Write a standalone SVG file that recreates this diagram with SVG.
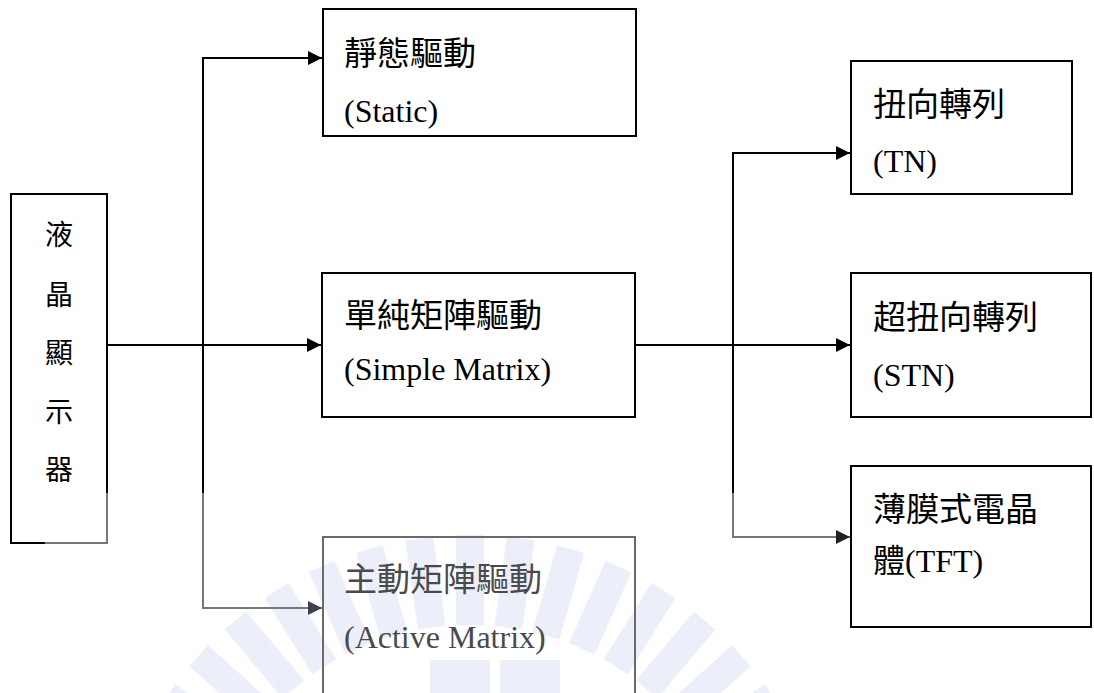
<svg xmlns="http://www.w3.org/2000/svg" width="1094" height="693" viewBox="0 0 1094 693">
<style>
.box{fill:#fff;stroke:#000;stroke-width:2}
.gbox{fill:none;stroke:#6a6a6a;stroke-width:2}
.cjk{font-family:"Liberation Serif","Noto Sans CJK TC",serif;font-size:33px;fill:#000}
.lat{font-family:"Liberation Serif","Noto Sans CJK TC",serif;font-size:32px;fill:#000}
.side{font-size:28px}
.gt{fill:#4a4a4a}
.ln{fill:none;stroke:#000;stroke-width:2}
.gl{fill:none;stroke:#777;stroke-width:2}
.wm{fill:#dfe2f6;opacity:0.6}
</style>
<defs>
<marker id="ah" viewBox="0 0 10 10" refX="10" refY="5" markerWidth="14" markerHeight="14" markerUnits="userSpaceOnUse" orient="auto"><path d="M0,0 L10,5 L0,10 z" fill="#000"/></marker>
<marker id="ahg" viewBox="0 0 10 10" refX="10" refY="5" markerWidth="14" markerHeight="14" markerUnits="userSpaceOnUse" orient="auto"><path d="M0,0 L10,5 L0,10 z" fill="#3a4050"/></marker>
<marker id="ahg2" viewBox="0 0 10 10" refX="10" refY="5" markerWidth="14" markerHeight="14" markerUnits="userSpaceOnUse" orient="auto"><path d="M0,0 L10,5 L0,10 z" fill="#222"/></marker>
</defs>
<g id="watermark">
<g transform="translate(470,900)">
<rect class="wm" x="-14" y="-365" width="28" height="90" transform="rotate(-56)"/>
<rect class="wm" x="-14" y="-365" width="28" height="90" transform="rotate(-48)"/>
<rect class="wm" x="-14" y="-365" width="28" height="90" transform="rotate(-40)"/>
<rect class="wm" x="-14" y="-365" width="28" height="90" transform="rotate(-32)"/>
<rect class="wm" x="-14" y="-365" width="28" height="90" transform="rotate(-24)"/>
<rect class="wm" x="-14" y="-365" width="28" height="90" transform="rotate(-16)"/>
<rect class="wm" x="-14" y="-365" width="28" height="90" transform="rotate(-8)"/>
<rect class="wm" x="-14" y="-365" width="28" height="90" transform="rotate(0)"/>
<rect class="wm" x="-14" y="-365" width="28" height="90" transform="rotate(8)"/>
<rect class="wm" x="-14" y="-365" width="28" height="90" transform="rotate(16)"/>
<rect class="wm" x="-14" y="-365" width="28" height="90" transform="rotate(24)"/>
<rect class="wm" x="-14" y="-365" width="28" height="90" transform="rotate(32)"/>
<rect class="wm" x="-14" y="-365" width="28" height="90" transform="rotate(40)"/>
<rect class="wm" x="-14" y="-365" width="28" height="90" transform="rotate(48)"/>
<rect class="wm" x="-14" y="-365" width="28" height="90" transform="rotate(56)"/>
</g>
<rect class="wm" x="430" y="660" width="60" height="33"/>
<rect class="wm" x="500" y="660" width="60" height="33"/>
</g>
<g id="connectors">
<path class="ln" d="M107,345 H321" marker-end="url(#ah)"/>
<path class="ln" d="M203,493 V58 H322" marker-end="url(#ah)"/>
<path class="gl" d="M203,493 V608 H322" marker-end="url(#ahg)"/>
<path class="ln" d="M635,345 H850" marker-end="url(#ah)"/>
<path class="ln" d="M733,493 V153 H850" marker-end="url(#ah)"/>
<path class="gl" d="M733,493 V537 H850" marker-end="url(#ahg2)"/>
</g>
<g id="node-lcd">
<path class="box" d="M107,493 V194 H11 V543 H45"/>
<path class="gl" d="M45,543 H107 V493"/>
<text class="cjk side" x="59" y="245" text-anchor="middle">液</text>
<text class="cjk side" x="59" y="305" text-anchor="middle">晶</text>
<text class="cjk side" x="59" y="363" text-anchor="middle">顯</text>
<text class="cjk side" x="59" y="422" text-anchor="middle">示</text>
<text class="cjk side" x="59" y="480" text-anchor="middle">器</text>
</g>
<g id="node-static">
<rect class="box" x="323" y="9" width="313" height="127"/>
<text class="cjk" x="344" y="65">靜態驅動</text>
<text class="lat" x="344" y="122">(Static)</text>
</g>
<g id="node-simple">
<rect class="box" x="322" y="273" width="313" height="144"/>
<text class="cjk" x="344" y="327">單純矩陣驅動</text>
<text class="lat" x="344" y="380">(Simple Matrix)</text>
</g>
<g id="node-active">
<rect class="gbox" x="323" y="537" width="312" height="170"/>
<text class="cjk gt" x="344" y="591">主動矩陣驅動</text>
<text class="lat gt" x="344" y="648">(Active Matrix)</text>
</g>
<g id="node-tn">
<rect class="box" x="851" y="61" width="221" height="133"/>
<text class="cjk" x="873" y="116">扭向轉列</text>
<text class="lat" x="873" y="172">(TN)</text>
</g>
<g id="node-stn">
<rect class="box" x="851" y="273" width="240" height="144"/>
<text class="cjk" x="873" y="329">超扭向轉列</text>
<text class="lat" x="873" y="386">(STN)</text>
</g>
<g id="node-tft">
<rect class="box" x="851" y="466" width="240" height="161"/>
<text class="cjk" x="873" y="521">薄膜式電晶</text>
<text class="lat" x="873" y="572">體(TFT)</text>
</g>
</svg>
